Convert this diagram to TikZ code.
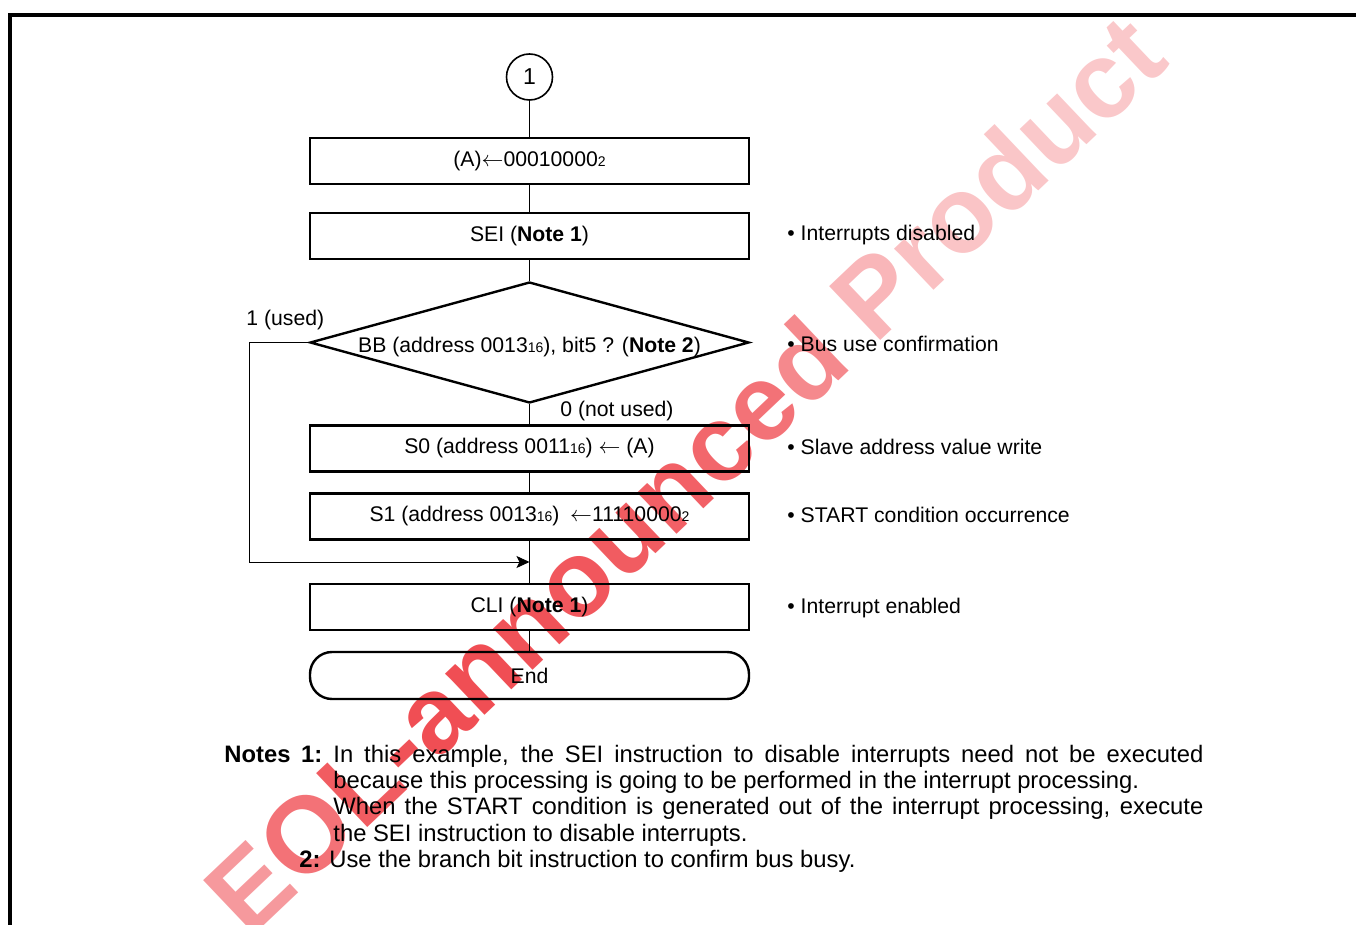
\documentclass[tikz,border=0pt]{standalone}
\usepackage{fontspec}
\setmainfont{Liberation Sans}
\usetikzlibrary{shapes.geometric,arrows.meta}
\definecolor{wm}{RGB}{236,28,36}
\newcommand{\sbs}[1]{{\fontsize{7}{7}\selectfont #1}}
\newcommand{\wl}[2]{\textcolor{wm!#1!white}{#2}}
\begin{document}
\begin{tikzpicture}[x=0.5pt,y=-0.5pt,
  every node/.style={font=\fontsize{10.6}{12}\selectfont},
  procbox/.style={draw, line width=1.2pt, minimum width=219.5pt, minimum height=23pt, inner sep=0pt},
  conn/.style={line width=0.5pt},
  txt/.style={anchor=base west, inner sep=0pt},
  note/.style={anchor=base west, inner sep=0pt, font=\fontsize{11.9}{13}\selectfont},
  frame/.style={line width=2.25pt}]
\useasboundingbox (0,0) rectangle (1356,925);

% watermark (behind)
\node[inner sep=0pt, rotate=43.5, font=\fontsize{54}{54}\selectfont\bfseries] (wmark) at (684,474)
 {\wl{45}{E}\wl{62}{O}\wl{72}{L}\wl{76}{-}\wl{78}{a}\wl{78}{n}\wl{76}{n}\wl{74}{o}\wl{72}{u}\wl{70}{n}\wl{67}{c}\wl{62}{e}\wl{52}{d} \wl{32}{P}\wl{28}{r}\wl{26}{o}\wl{25}{d}\wl{24}{u}\wl{24}{c}\wl{24}{t}};

% frame
\draw[frame] (10,925) -- (10,15) -- (1356,15);

% flowchart
\node[draw, circle, line width=0.8pt, minimum size=23pt, inner sep=0pt, font=\fontsize{11.5}{12}\selectfont] (c1) at (529.5,77) {1};
\node[procbox] (b1) at (529.5,161) {(A)$\leftarrow$00010000\sbs{2}};
\node[procbox] (b2) at (529.5,236) {SEI (\textbf{Note 1})};
\node[diamond, draw, line width=1.2pt, inner sep=0pt, aspect=3.63, minimum width=219.5pt, minimum height=60.5pt] (dia) at (529.5,342.5) {\raisebox{-2.5pt}[\height][\depth]{BB (address 0013\sbs{16}), bit5 ? (\textbf{Note 2})}};
\node[procbox] (s0) at (529.5,448.5) {S0 (address 0011\sbs{16}) $\leftarrow$ (A)};
\node[procbox] (s1) at (529.5,516.5) {S1 (address 0013\sbs{16})\enskip$\leftarrow$11110000\sbs{2}};
\node[procbox] (cli) at (529.5,607) {CLI (\textbf{Note 1})};
\node[procbox, rounded corners=11pt, minimum height=23.5pt] (end) at (529.5,675.5) {End};

\coordinate (join) at (529.5,562);
\coordinate (lpx) at (249,0);

\draw[conn] (c1) -- (b1);
\draw[conn] (b1) -- (b2);
\draw[conn] (b2) -- (dia);
\draw[conn] (dia) -- (s0);
\draw[conn] (s0) -- (s1);
\draw[conn] (s1) -- (cli);
\draw[conn] (cli) -- (end);
\draw[conn, -{Stealth[length=6.5pt,width=6pt,inset=1.5pt]}] (dia.west) -| (lpx |- join) -- (join);

% branch labels
\node[txt] (lused) at (246,326) {1 (used)};
\node[txt] (lnot) at (560,416) {0 (not used)};

% annotations
\node[txt] (a1) at (787,241) {• Interrupts disabled};
\node[txt] (a2) at (787,352) {• Bus use confirmation};
\node[txt] (a3) at (787,455) {• Slave address value write};
\node[txt] (a4) at (787,523) {• START condition occurrence};
\node[txt] (a5) at (787,613) {• Interrupt enabled};

% notes
\node[note] (n1) at (224,762) {\makebox[49pt][s]{\textbf{Notes 1:}}\hspace{5.5pt}\makebox[435pt][s]{In this example, the SEI instruction to disable interrupts need not be executed}};
\node[note] (n2) at (333,788) {because this processing is going to be performed in the interrupt processing.};
\node[note] (n3) at (333,814) {\makebox[435pt][s]{When the START condition is generated out of the interrupt processing, execute}};
\node[note] (n4) at (333,841) {the SEI instruction to disable interrupts.};
\node[note] (n5) at (299,867) {\textbf{2:} Use the branch bit instruction to confirm bus busy.};
\end{tikzpicture}
\end{document}
